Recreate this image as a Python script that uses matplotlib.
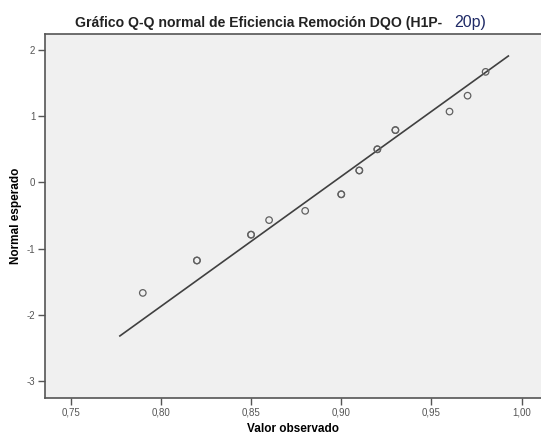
import matplotlib.pyplot as plt

# Valores observados (duplicados = puntos solapados, se ven mas oscuros)
observed = [0.79, 0.82, 0.82, 0.85, 0.85, 0.86, 0.88, 0.90, 0.90,
            0.91, 0.91, 0.92, 0.92, 0.93, 0.93, 0.96, 0.97, 0.98]
expected = [-1.67, -1.18, -1.18, -0.79, -0.79, -0.57, -0.43, -0.18, -0.18,
            0.18, 0.18, 0.50, 0.50, 0.79, 0.79, 1.07, 1.31, 1.67]

# recta normal teorica
mean_val = 0.8954
sd_val = 0.0509
line_x = [0.7773, 0.9926]

x_ticks = [0.75, 0.80, 0.85, 0.90, 0.95, 1.00]
x_labels = ['0,75', '0,80', '0,85', '0,90', '0,95', '1,00']
y_ticks = [-3, -2, -1, 0, 1, 2]

plt.rcParams['font.family'] = ['Liberation Sans', 'DejaVu Sans']
plt.rcParams['axes.unicode_minus'] = False

fig = plt.figure(figsize=(5.41, 4.37), dpi=100)
ax = fig.add_axes([45 / 541, 1 - 398 / 437, 1 - 45 / 541, (398 - 34) / 437])
ax.set_facecolor('#f0f0f0')

line_y = [(x - mean_val) / sd_val for x in line_x]
ax.plot(line_x, line_y, color='#404040', lw=1.2, zorder=2)
ax.scatter(observed, expected, s=22, facecolors='none', edgecolors='#606060',
           linewidths=0.9, zorder=3)

ax.set_xlim(0.7358, 1.0107)
ax.set_ylim(-3.258, 2.242)
ax.set_xticks(x_ticks)
ax.set_xticklabels(x_labels)
ax.set_yticks(y_ticks)
ax.tick_params(direction='out', length=5, width=1, color='#555555',
               labelsize=7, labelcolor='#555555', pad=2)

for side in ['left', 'bottom', 'top']:
    ax.spines[side].set_color('#555555')
    ax.spines[side].set_linewidth(1.2)
ax.spines['right'].set_visible(False)

ax.set_xlabel('Valor observado', fontsize=8.5, fontweight='bold', labelpad=4)
ax.set_ylabel('Normal esperado', fontsize=8.5, fontweight='bold', labelpad=3)

fig.text(75 / 541, 1 - 27 / 437, 'Gráfico Q-Q normal de Eficiencia Remoción DQO (H1P-',
         fontsize=10.1, fontweight='bold', color='#222222', ha='left', va='baseline')
fig.text(454 / 541, 1 - 27 / 437, '20p)', fontsize=11.5, color='#1f2a66',
         ha='left', va='baseline')

fig.savefig('out.png', dpi=100)
